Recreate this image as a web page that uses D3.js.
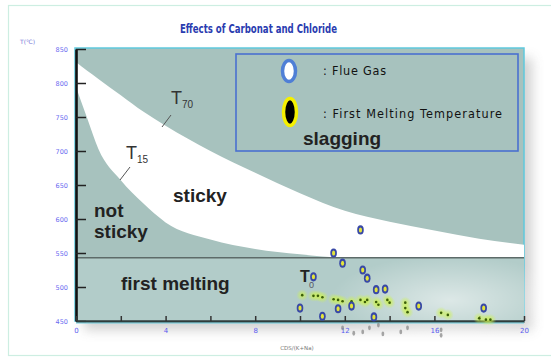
<!DOCTYPE html>
<html><head><meta charset="utf-8">
<script src="https://cdn.jsdelivr.net/npm/d3@7"></script>
<style>body{margin:0;background:#fff}svg{display:block}</style>
</head><body>
<svg id="c" width="551" height="358"></svg>
<script>
// ---- data ----
const title = "Effects of Carbonat and Chloride";
const yTitle = "T(\u2103)";
const xTitle = "CDS/(K+Na)";
const yTicks = [450, 500, 550, 600, 650, 700, 750, 800, 850];
const xTicks = [0, 2, 4, 6, 8, 10, 12, 14, 16, 18, 20];
const xLabels = [0, 4, 8, 12, 16, 20];

// boundary curves (T70 upper, T15 lower)
const curveX = [0, 0.5, 1, 2, 3, 4, 6, 8, 10, 12, 14, 16, 18, 20];
const t70 = [831, 818, 806, 782, 758, 737, 700, 668, 638, 612, 596, 583, 571, 562];
const t15 = [794, 748, 703, 657, 623, 595, 570, 556, 548, 543, 543, 543, 543, 543];
const meltLine = 543;

// flue gas points
const flueX = [12.7, 11.5, 11.9, 12.8, 13.0, 10.6, 13.4, 13.8, 10.0, 11.0, 11.7, 12.3, 13.3, 15.3, 18.2];
const flueT = [584, 550, 535, 525, 513, 515, 496, 497, 469, 457, 468, 472, 456, 472, 469];

// first melting temperature points
const meltX = [10.1, 10.6, 10.8, 11.0, 11.5, 11.7, 11.9, 12.3, 12.3, 12.7, 12.9, 13.0, 13.4, 13.5, 13.9, 14.0, 14.7, 14.7, 14.8, 16.3, 16.6, 18.0, 18.3, 18.5];
const meltT = [488, 487, 487, 485, 482, 481, 479, 479, 474, 481, 478, 481, 478, 474, 481, 477, 477, 469, 463, 462, 459, 454, 452, 452];

// faint grey points below the axis
const greyX = [11.9, 12.4, 12.8, 13.1, 13.5, 13.7, 14.5, 14.8, 16.3, 16.3];
const greyT = [440, 432, 434, 440, 444, 431, 434, 440, 437, 429];

// ---- drawing ----
const svg = d3.select("#c");
const x = d3.scaleLinear().domain([0, 20]).range([76, 524]);
const y = d3.scaleLinear().domain([450, 850]).range([321, 49]);

const defs = svg.append("defs");
const rg = defs.append("radialGradient").attr("id", "glow");
rg.append("stop").attr("offset", "0%").attr("stop-color", "#fff").attr("stop-opacity", 0.55);
rg.append("stop").attr("offset", "100%").attr("stop-color", "#fff").attr("stop-opacity", 0);
const hg = defs.append("radialGradient").attr("id", "halo");
hg.append("stop").attr("offset", "0%").attr("stop-color", "#cdf255").attr("stop-opacity", 0.9);
hg.append("stop").attr("offset", "100%").attr("stop-color", "#cdf255").attr("stop-opacity", 0);
defs.append("filter").attr("id", "blur").attr("x", "-20%").attr("y", "-20%").attr("width", "140%").attr("height", "140%")
  .append("feGaussianBlur").attr("stdDeviation", 6);

// outer frame
svg.append("rect").attr("x", 8.5).attr("y", 5.5).attr("width", 560).attr("height", 350)
  .attr("fill", "none").attr("stroke", "#cdeee2").attr("stroke-width", 1.2);

// title
svg.append("text").attr("x", 180).attr("y", 33).text(title)
  .attr("font-family", "'Liberation Sans Narrow','DejaVu Sans Condensed',sans-serif")
  .attr("font-weight", "bold").attr("font-size", 13).attr("fill", "#2a3cb0")
  .attr("textLength", 157).attr("lengthAdjust", "spacingAndGlyphs");

// shadow
svg.append("rect").attr("x", 84).attr("y", 58).attr("width", 448).attr("height", 272)
  .attr("fill", "#9a9a9a").attr("opacity", 0.45).attr("filter", "url(#blur)");

// plot background
const px0 = x(0), px1 = x(20), py0 = y(850), py1 = y(450);
svg.append("rect").attr("x", px0 - 1).attr("y", py0 - 1).attr("width", px1 - px0 + 1).attr("height", py1 - py0 + 1)
  .attr("fill", "#a7c2be").attr("stroke", "#5fc9dd").attr("stroke-width", 1.5);
svg.append("rect").attr("x", px0).attr("y", y(meltLine)).attr("width", px1 - px0).attr("height", py1 - y(meltLine))
  .attr("fill", "#b2ccc9");
svg.append("ellipse").attr("cx", 450).attr("cy", 300).attr("rx", 120).attr("ry", 45).attr("fill", "url(#glow)");

// white "sticky" band
const band = d3.area()
  .x((d, i) => x(curveX[i]))
  .y0((d, i) => y(t15[i]))
  .y1((d, i) => y(t70[i]))
  .curve(d3.curveMonotoneX);
svg.append("path").datum(curveX).attr("d", band).attr("fill", "#ffffff");

// first melting line
svg.append("line").attr("x1", px0).attr("x2", px1).attr("y1", y(meltLine)).attr("y2", y(meltLine))
  .attr("stroke", "#5d6b69").attr("stroke-width", 1.6);

// axes
const yAxis = d3.axisLeft(y).tickValues(yTicks).tickSize(-10).tickSizeOuter(0).tickPadding(8);
const ya = svg.append("g").attr("transform", `translate(${px0},0)`).call(yAxis);
ya.select(".domain").attr("stroke", "#111").attr("stroke-width", 2.6);
ya.selectAll(".tick line").attr("stroke", "#222").attr("stroke-width", 1.5);
ya.selectAll(".tick text").attr("fill", "#6b6bf0").attr("font-size", 6.5).attr("font-family", "'DejaVu Sans',sans-serif");

const xAxis = d3.axisBottom(x).tickValues(xTicks).tickSize(-5).tickSizeOuter(0).tickPadding(7)
  .tickFormat(d => xLabels.includes(d) ? d : "");
const xa = svg.append("g").attr("transform", `translate(0,${py1})`).call(xAxis);
xa.select(".domain").attr("stroke", "#2f3d3c").attr("stroke-width", 2.6);
xa.selectAll(".tick line").attr("stroke", "#333").attr("stroke-width", 1.5);
xa.selectAll(".tick text").attr("fill", "#5a5af0").attr("font-size", 7).attr("font-family", "'DejaVu Sans',sans-serif");
svg.append("line").attr("x1", px0).attr("x2", px1).attr("y1", py1 + 2).attr("y2", py1 + 2)
  .attr("stroke", "#6fd0e0").attr("stroke-width", 1);

svg.append("text").attr("x", 20).attr("y", 44).text(yTitle)
  .attr("font-size", 6).attr("fill", "#7a7ad8").attr("font-family", "'DejaVu Sans',sans-serif");
svg.append("text").attr("x", 297).attr("y", 350).text(xTitle).attr("text-anchor", "middle")
  .attr("font-size", 5.5).attr("fill", "#777").attr("font-family", "'DejaVu Sans',sans-serif");

// annotations
const lab = (t, tx, ty, fs) => svg.append("text").attr("x", tx).attr("y", ty).text(t)
  .attr("font-family", "'Liberation Sans',Arial,sans-serif").attr("font-weight", "bold")
  .attr("font-size", fs).attr("fill", "#222");
lab("sticky", 173, 202, 19);
lab("not", 94, 217, 19);
lab("sticky", 94, 238, 19);
lab("first melting", 121, 290, 19);

function tSub(tx, ty, sub) {
  const t = svg.append("text").attr("x", tx).attr("y", ty)
    .attr("font-family", "'Liberation Sans',Arial,sans-serif").attr("fill", "#333");
  t.append("tspan").text("T").attr("font-size", 18);
  t.append("tspan").text(sub).attr("font-size", 10).attr("dy", 4);
}
tSub(171, 104, "70");
svg.append("line").attr("x1", 171).attr("y1", 115).attr("x2", 162).attr("y2", 127).attr("stroke", "#555").attr("stroke-width", 1);
tSub(126, 159, "15");
svg.append("line").attr("x1", 130).attr("y1", 167).attr("x2", 120).attr("y2", 180).attr("stroke", "#555").attr("stroke-width", 1);
svg.append("text").attr("x", 300).attr("y", 282).text("T")
  .attr("font-family", "'Liberation Sans',Arial,sans-serif").attr("font-weight", "bold").attr("font-size", 16).attr("fill", "#222");
svg.append("text").attr("x", 309).attr("y", 288).text("0")
  .attr("font-family", "'Liberation Sans',Arial,sans-serif").attr("font-size", 9).attr("fill", "#556");

// legend
svg.append("rect").attr("x", 236).attr("y", 54).attr("width", 282).attr("height", 97)
  .attr("fill", "#a7c2be").attr("stroke", "#4a70d0").attr("stroke-width", 1.6);
svg.append("ellipse").attr("cx", 289).attr("cy", 71).attr("rx", 6.5).attr("ry", 10.5)
  .attr("fill", "#fff").attr("stroke", "#4f7fd6").attr("stroke-width", 3.5);
svg.append("ellipse").attr("cx", 290).attr("cy", 112).attr("rx", 6.5).attr("ry", 13.5)
  .attr("fill", "#000").attr("stroke", "#f5f000").attr("stroke-width", 3.5);
const legT = (t, ty, w) => svg.append("text").attr("x", 323).attr("y", ty).text(t)
  .attr("font-family", "'Liberation Sans Narrow','DejaVu Sans Condensed',sans-serif")
  .attr("font-size", 12.5).attr("fill", "#111")
  .attr("textLength", w).attr("lengthAdjust", "spacing");
legT(": Flue Gas", 75, 63);
legT(": First Melting Temperature", 118, 179);
lab("slagging", 303, 145, 19);

// points
const gp = svg.append("g");
gp.selectAll(".halo").data(meltX).join("circle")
  .attr("cx", (d, i) => x(d)).attr("cy", (d, i) => y(meltT[i])).attr("r", 6)
  .attr("fill", "url(#halo)");
gp.selectAll(".grey").data(greyX).join("ellipse")
  .attr("cx", d => x(d)).attr("cy", (d, i) => y(greyT[i])).attr("rx", 1.4).attr("ry", 2.4)
  .attr("fill", "#8a8a8a").attr("opacity", 0.75);
gp.selectAll(".melt").data(meltX).join("circle")
  .attr("cx", d => x(d)).attr("cy", (d, i) => y(meltT[i])).attr("r", 1.3)
  .attr("fill", "#3b5d0a");
const fg = gp.selectAll(".flue").data(flueX).join("g")
  .attr("transform", (d, i) => `translate(${x(d)},${y(flueT[i])})`);
fg.append("ellipse").attr("rx", 3.3).attr("ry", 4.6).attr("fill", "#3848a6");
fg.append("ellipse").attr("rx", 1.6).attr("ry", 2.5).attr("fill", "#e4e43c");
</script>
</body></html>
